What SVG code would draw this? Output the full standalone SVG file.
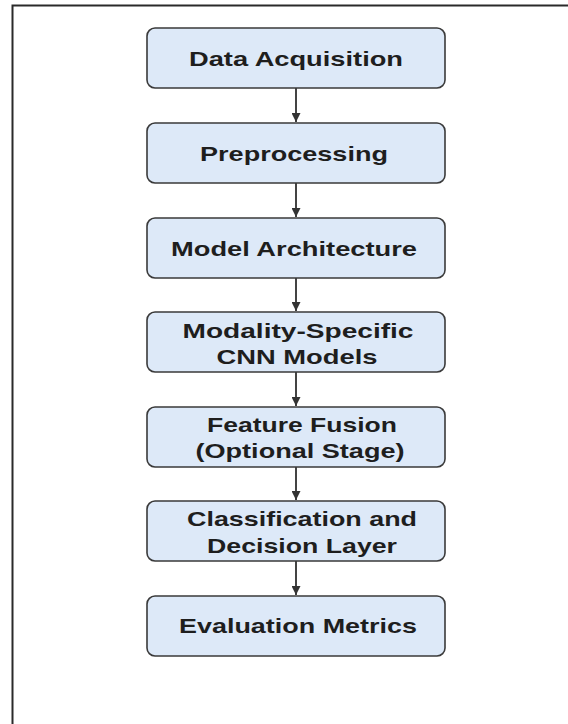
<svg xmlns="http://www.w3.org/2000/svg" width="568" height="724" viewBox="0 0 568 724">
<defs>
<style>
.box{fill:#dde9f8;stroke:#3a3a3a;stroke-width:1.6}
.lbl{font-family:"Liberation Sans",Arial,sans-serif;font-size:21px;font-weight:bold;fill:#1e1e1e;text-anchor:middle}
.conn{stroke:#444;stroke-width:2;fill:none}
.frame{stroke:#2a2a2a;stroke-width:2;fill:none}
</style>
<marker id="ah" viewBox="0 0 10 10" refX="10" refY="5" markerWidth="4.5" markerHeight="4.5" markerUnits="strokeWidth" orient="auto">
<path d="M0,0 L10,5 L0,10 z" fill="#333"/>
</marker>
</defs>
<rect width="568" height="724" fill="#fff"/>
<path class="frame" d="M12.5,724 L12.5,5.5 L568,5.5"/>
<g id="connectors">
<line class="conn" x1="296" y1="88" x2="296" y2="122" marker-end="url(#ah)"/>
<line class="conn" x1="296" y1="183" x2="296" y2="217" marker-end="url(#ah)"/>
<line class="conn" x1="296" y1="278" x2="296" y2="311" marker-end="url(#ah)"/>
<line class="conn" x1="296" y1="372" x2="296" y2="406" marker-end="url(#ah)"/>
<line class="conn" x1="296" y1="467" x2="296" y2="500" marker-end="url(#ah)"/>
<line class="conn" x1="296" y1="561" x2="296" y2="595" marker-end="url(#ah)"/>
</g>
<g id="n1"><rect class="box" x="147" y="28" width="298" height="60" rx="8"/>
<text class="lbl" x="296" y="66" textLength="214" lengthAdjust="spacingAndGlyphs">Data Acquisition</text></g>
<g id="n2"><rect class="box" x="147" y="123" width="298" height="60" rx="8"/>
<text class="lbl" x="294" y="161" textLength="188" lengthAdjust="spacingAndGlyphs">Preprocessing</text></g>
<g id="n3"><rect class="box" x="147" y="218" width="298" height="60" rx="8"/>
<text class="lbl" x="294" y="256" textLength="246" lengthAdjust="spacingAndGlyphs">Model Architecture</text></g>
<g id="n4"><rect class="box" x="147" y="312" width="298" height="60" rx="8"/>
<text class="lbl" x="298" y="338" textLength="231" lengthAdjust="spacingAndGlyphs">Modality-Specific</text>
<text class="lbl" x="297" y="364" textLength="161" lengthAdjust="spacingAndGlyphs">CNN Models</text></g>
<g id="n5"><rect class="box" x="147" y="407" width="298" height="60" rx="8"/>
<text class="lbl" x="302" y="432" textLength="190" lengthAdjust="spacingAndGlyphs">Feature Fusion</text>
<text class="lbl" x="300" y="458" textLength="209" lengthAdjust="spacingAndGlyphs">(Optional Stage)</text></g>
<g id="n6"><rect class="box" x="147" y="501" width="298" height="60" rx="8"/>
<text class="lbl" x="302" y="526" textLength="230" lengthAdjust="spacingAndGlyphs">Classification and</text>
<text class="lbl" x="302" y="553" textLength="190" lengthAdjust="spacingAndGlyphs">Decision Layer</text></g>
<g id="n7"><rect class="box" x="147" y="596" width="298" height="60" rx="8"/>
<text class="lbl" x="298" y="633" textLength="238" lengthAdjust="spacingAndGlyphs">Evaluation Metrics</text></g>
</svg>
